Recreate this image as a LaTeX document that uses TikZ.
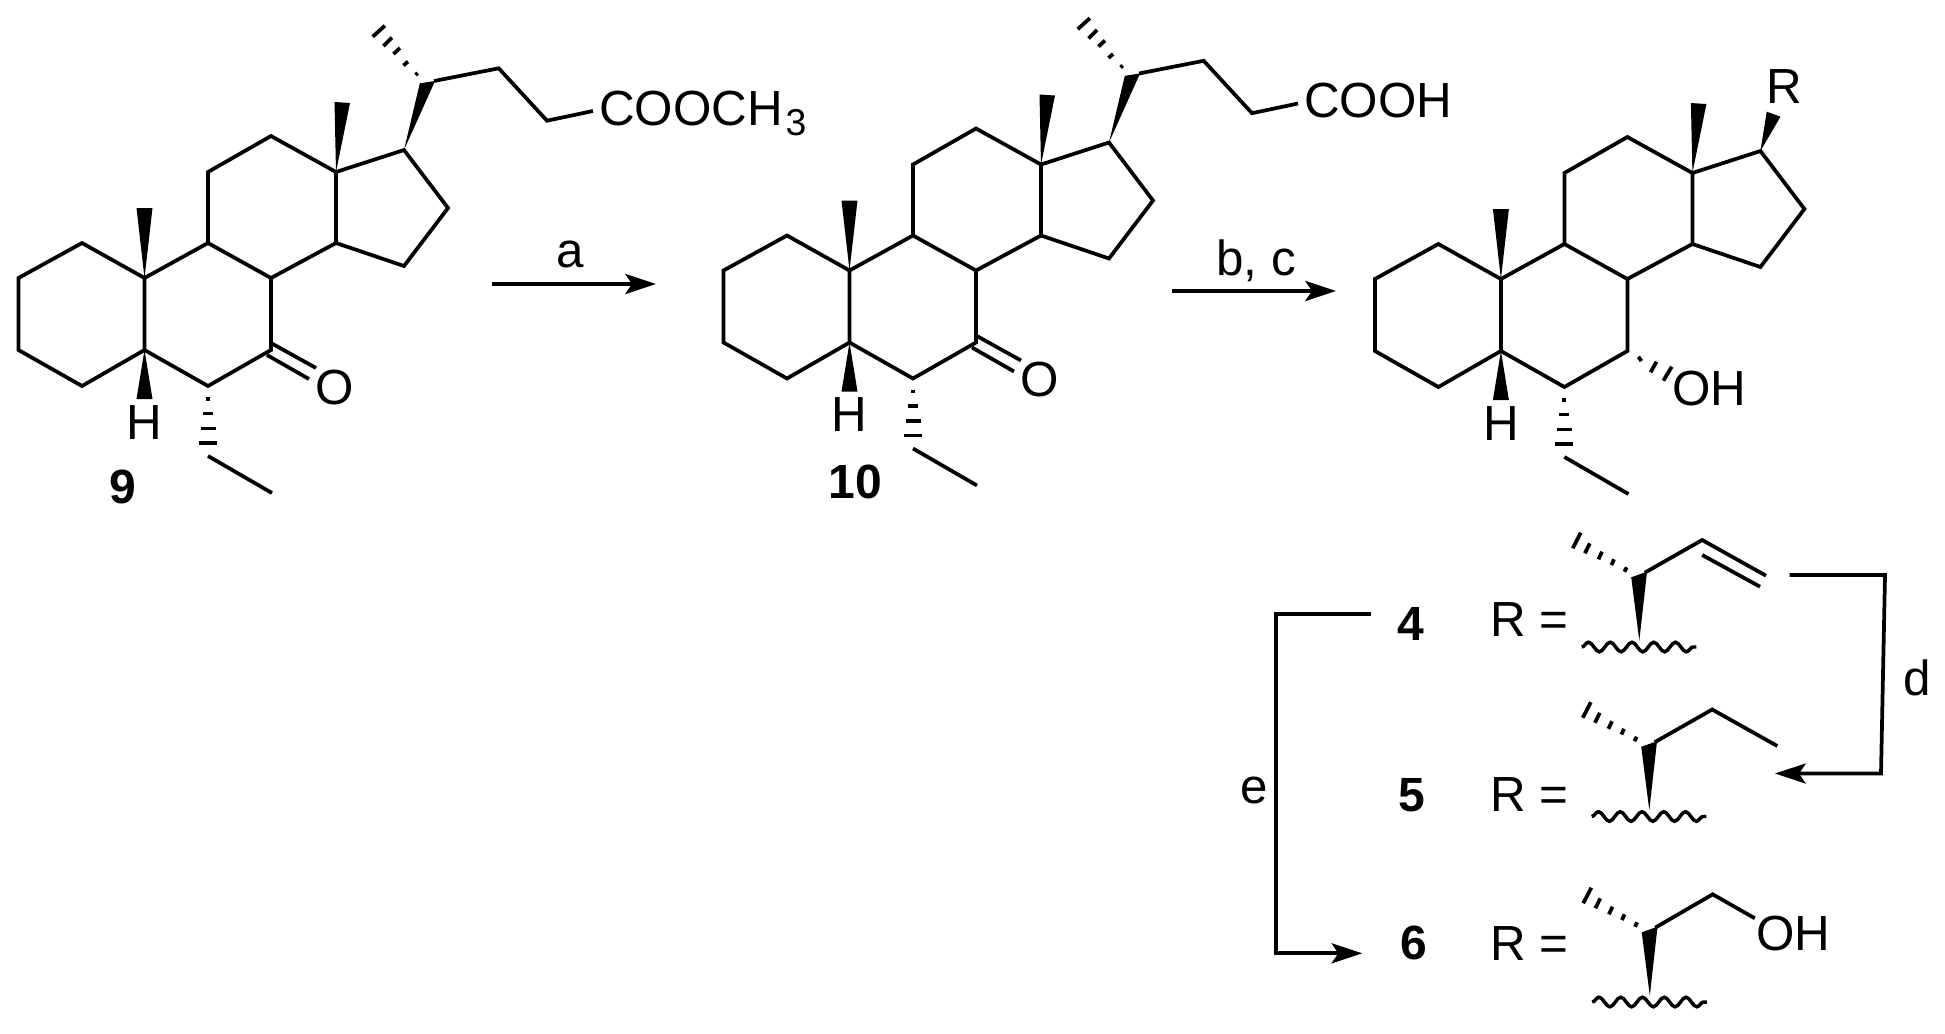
\documentclass[tikz,border=0pt]{standalone}
\usepackage{fontspec}
\setmainfont{Liberation Sans}
\usetikzlibrary{arrows.meta,decorations.pathmorphing}
\tikzset{
  bond/.style={line width=2.8pt},
  dashb/.style={line width=2.8pt},
  wedgeb/.style={fill=black,draw=none},
  rxn/.style={line width=2.8pt,-{Stealth[length=23pt,width=15pt,inset=5pt]}},
  atom/.style={inner sep=0pt,anchor=base west,font=\fontsize{37}{37}\selectfont},
  atomc/.style={inner sep=0pt,anchor=base,font=\fontsize{37}{37}\selectfont},
  cmpd/.style={inner sep=0pt,anchor=base,font=\fontsize{36}{36}\selectfont\bfseries},
  wavy/.style={line width=2.6pt,decorate,decoration={snake,amplitude=3.6pt,segment length=16.3pt}}
}
% rings, ring methyls, H and ethyl
\newcommand{\steroidcore}{
\draw[bond] (82,243) -- (18.5,278) -- (18.5,350) -- (82,386) -- (144.5,350) -- (144.5,278) -- cycle ;
\draw[bond] (144.5,278) -- (208,243) -- (271,278) -- (271,350) -- (208,386) -- (144.5,350) ;
\draw[bond] (208,243) -- (208,172) -- (271,136) -- (336,172) -- (336,243) -- (271,278) ;
\draw[bond] (336,172) -- (404,150) -- (448,208) -- (404,266) -- (336,243) ;
\fill[wedgeb] (144.5,278) -- (136.5,208) -- (152.5,208) -- cycle ;
\fill[wedgeb] (336,172) -- (334.5,102) -- (350,103) -- cycle ;
\fill[wedgeb] (144.5,350) -- (136.5,399) -- (152.5,399) -- cycle ;
\draw[dashb] (206,399) -- (210,399) ;
\draw[dashb] (203,413.5) -- (213,413.5) ;
\draw[dashb] (200.5,428.5) -- (215.5,428.5) ;
\draw[dashb] (199,443) -- (217,443) ;
\draw[bond] (208,456) -- (272,493) ;
\node[atomc] (hatom) at (144.5,439) {H};
}
% methyl hash, wedge to C17 and the chain
\newcommand{\sidechain}{
\fill[wedgeb] (404,150) -- (419.8,83.3) -- (435,81) -- cycle ;
\draw[dashb] (415.6,75) -- (417.6,73) ;
\draw[dashb] (403.5,65.5) -- (408,61.5) ;
\draw[dashb] (393.5,54) -- (400,48) ;
\draw[dashb] (383.5,46) -- (392,37.5) ;
\draw[dashb] (372.7,36.7) -- (384.9,25.7) ;
\draw[bond] (434,81) -- (498.7,68.3) -- (547,120.7) -- (593,111) ;
}
% ketone
\newcommand{\ketone}{
\draw[bond] (271,343) -- (316,368) ;
\draw[bond] (267,355) -- (309,379) ;
\node[atomc] (oxo) at (334.5,404) {O};
}
% methyl hash, wedge and wavy bond of a side chain
\newcommand{\rstem}{
\draw[dashb] (1624.4,571.7) -- (1626.7,567.3) ;
\draw[dashb] (1611.4,565) -- (1614,559.3) ;
\draw[dashb] (1598.4,559.3) -- (1602,551.7) ;
\draw[dashb] (1584.9,553.3) -- (1589.8,543.3) ;
\draw[dashb] (1572.7,548.3) -- (1580.8,532.7) ;
\fill[wedgeb] (1639.3,640.7) -- (1631.2,577.3) -- (1647,571.7) -- cycle ;
\draw[wavy] (1581.7,647) -- (1696.4,647) ;
}
\begin{document}
\begin{tikzpicture}[x=0.75pt,y=0.75pt,yscale=-1,xscale=1]
\useasboundingbox (0,0) rectangle (1945,1033);
% 9
\steroidcore
\sidechain
\ketone
\node[atom] (ester) at (599,125) {COOCH\hspace{2pt}\raisebox{-8pt}{\fontsize{28}{28}\selectfont 3}};
\node[cmpd] (nine) at (123,503) {9};
% 10
\begin{scope}[shift={(705,-7.5)}]
\steroidcore
\sidechain
\ketone
\node[atom] (acid) at (599,125) {COOH};
\end{scope}
\node[cmpd] (ten) at (855,498) {10};
% 4-6 core
\begin{scope}[shift={(1356.4,1)}]
\steroidcore
\fill[wedgeb] (404,150) -- (410.3,110.7) -- (424.1,115.7) -- cycle ;
\draw[dashb] (282,355.7) -- (285,360) ;
\draw[dashb] (294.2,371.3) -- (300.1,360.7) ;
\draw[dashb] (307,379.7) -- (315.3,365.7) ;
\end{scope}
\node[atomc] (rgroup) at (1784,103) {R};
\node[atom] (hydroxy) at (1672,405.7) {OH};
% reaction arrows
\coordinate (a1) at (492,284);
\coordinate (a2) at (656,284);
\draw[rxn] (a1) -- (a2) ;
\node[atomc] (rxa) at (570,267) {a};
\coordinate (b1) at (1172,291);
\coordinate (b2) at (1336,291);
\draw[rxn] (b1) -- (b2) ;
\node[atomc] (rxb) at (1256,275) {b, c};
% R groups
\rstem
\draw[bond] (1644.7,572.7) -- (1702.2,540) -- (1766,575.7) ;
\draw[bond] (1702.2,555) -- (1760,586.7) ;
\node[cmpd] (four) at (1411,640.7) {4};
\node[atom] (r4) at (1490,636.7) {R =};
\begin{scope}[shift={(10,169.5)}]
\rstem
\draw[bond] (1644.7,572.7) -- (1702.2,540) -- (1767.3,576.5) ;
\end{scope}
\node[cmpd] (five) at (1412,811.7) {5};
\node[atom] (r5) at (1490,811.7) {R =};
\begin{scope}[shift={(10.5,355)}]
\rstem
\draw[bond] (1644.7,572.7) -- (1702.2,539.3) -- (1744.3,563.3) ;
\end{scope}
\node[cmpd] (six) at (1414,959) {6};
\node[atom] (r6) at (1490,960.7) {R =};
\node[atom] (oh6) at (1756,950) {OH};
% d and e
\coordinate (d1) at (1789.5,575);
\coordinate (d2) at (1885,575);
\coordinate (d3) at (1881,773.5);
\coordinate (d4) at (1775,773.5);
\draw[rxn] (d1) -- (d2) -- (d3) -- (d4) ;
\node[atomc] (rxd) at (1916.7,695) {d};
\coordinate (e1) at (1371.3,614);
\coordinate (e2) at (1276,614);
\coordinate (e3) at (1276,953.3);
\coordinate (e4) at (1362.3,953.3);
\draw[rxn] (e1) -- (e2) -- (e3) -- (e4) ;
\node[atomc] (rxe) at (1254.4,803) {e};
\end{tikzpicture}
\end{document}
